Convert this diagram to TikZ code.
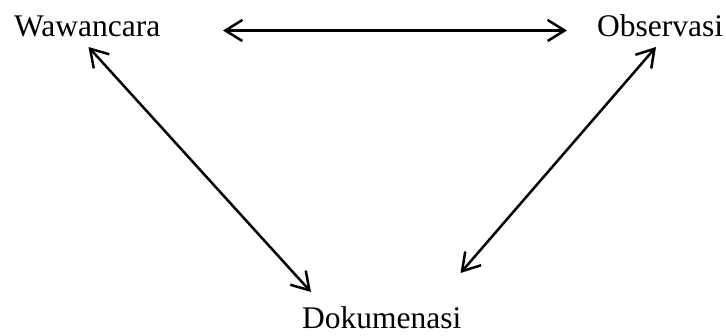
\documentclass[tikz,border=0pt]{standalone}
\usepackage{fontspec}
\setmainfont{Liberation Serif}
\usetikzlibrary{arrows.meta}
\tikzset{
  lbl/.style={inner sep=0pt, anchor=base west, text depth=0pt, font=\fontsize{31.5}{36}\selectfont},
  link/.style={line width=2.5pt, {Straight Barb[length=17pt,width=21pt]}-{Straight Barb[length=17pt,width=21pt]}}
}
\begin{document}
\begin{tikzpicture}[x=1pt,y=-1pt]
\useasboundingbox (0,0) rectangle (726,336);
\node[lbl] (w) at (14,37) {Wawancara};
\node[lbl] (o) at (597,37) {Observasi};
\node[lbl] (d) at (302,329) {Dokumenasi};
\coordinate (w1) at (223,30.5);
\coordinate (o1) at (567,30.5);
\coordinate (w2) at (88.5,47);
\coordinate (d1) at (311,292);
\coordinate (o2) at (656,47);
\coordinate (d2) at (460.5,273);
\draw[link] (w1) -- (o1);
\draw[link] (w2) -- (d1);
\draw[link] (o2) -- (d2);
\end{tikzpicture}
\end{document}
